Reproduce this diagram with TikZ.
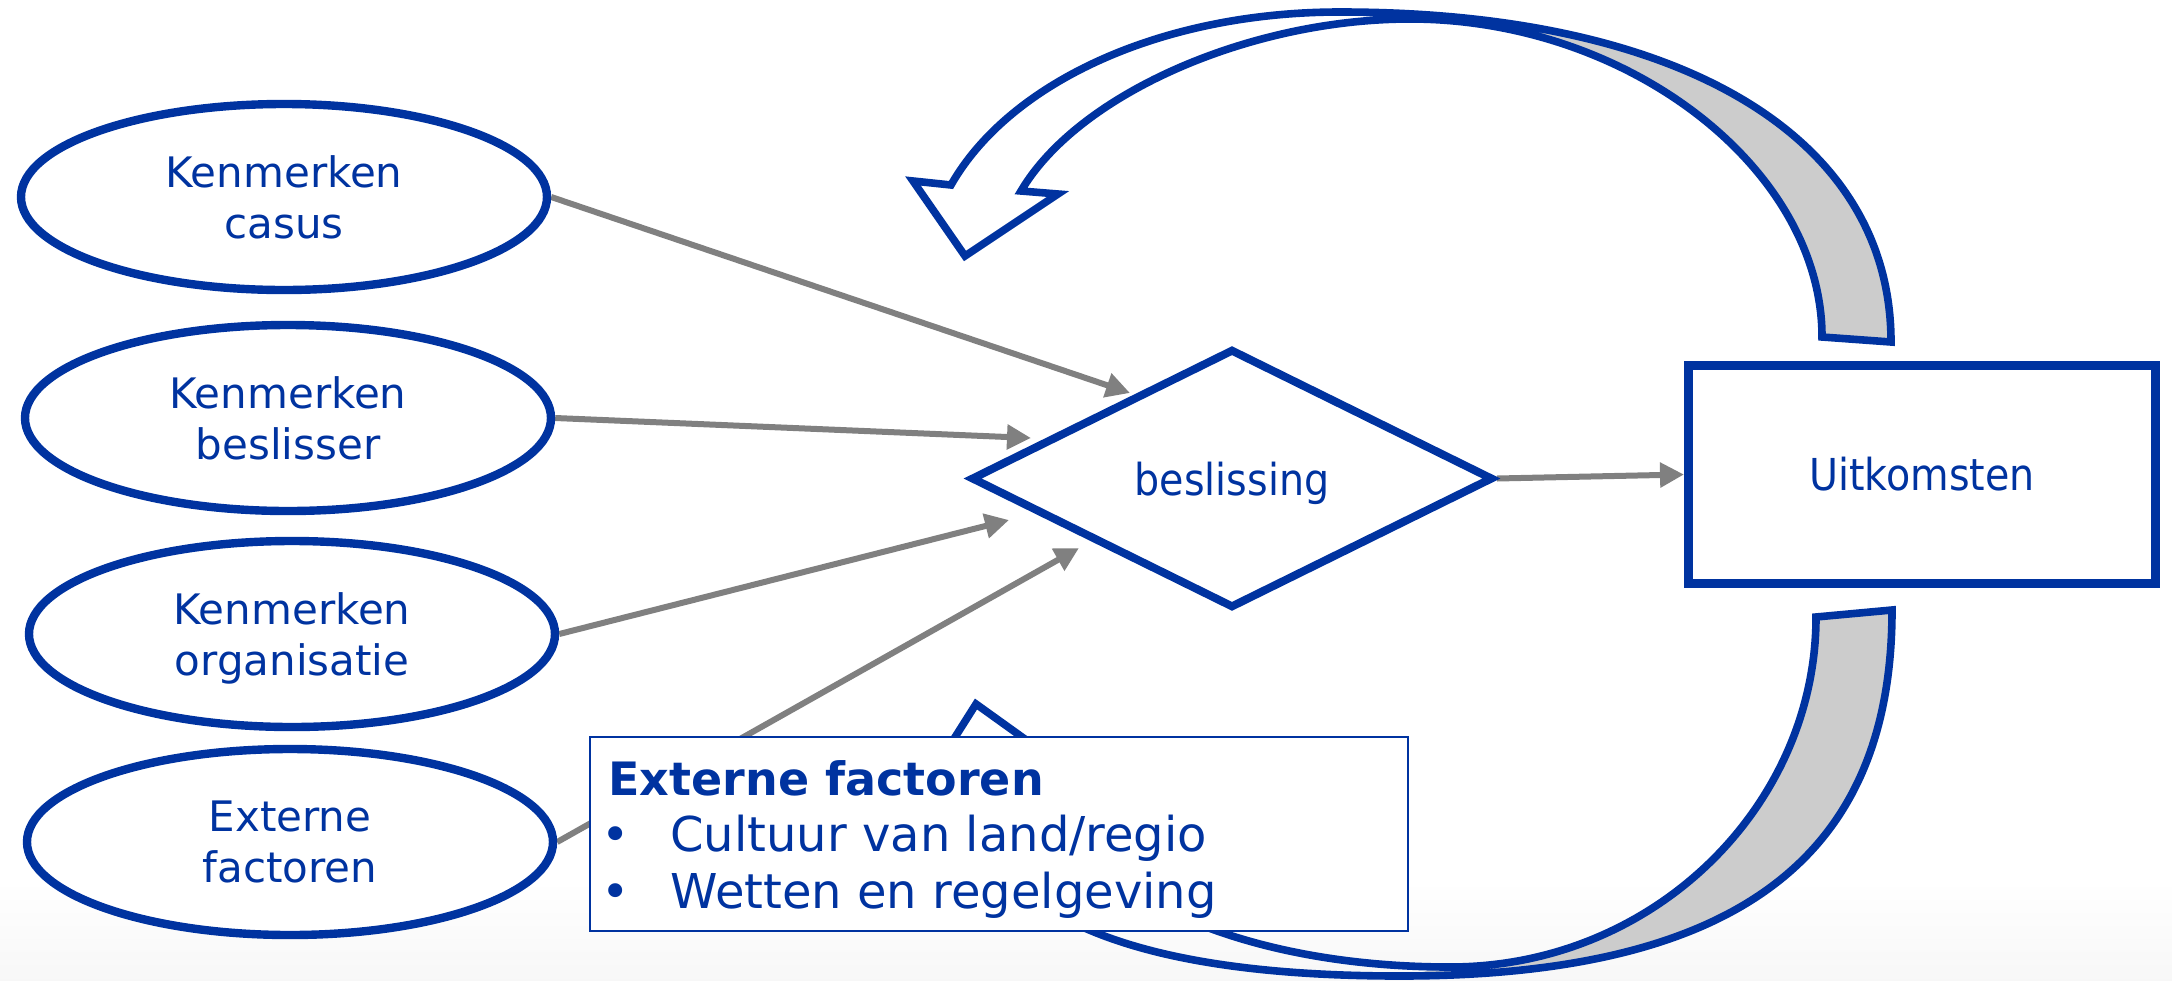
\documentclass[tikz,border=0pt]{standalone}
\usepackage{fontspec}
\setmainfont{DejaVu Sans}
\newfontfamily\condfont[FakeStretch=0.9]{DejaVu Sans}
\usetikzlibrary{shapes.geometric,arrows.meta}
\pgfdeclarelayer{bg}
\pgfsetlayers{bg,main}
\definecolor{dblue}{HTML}{0033A0}
\definecolor{cgray}{HTML}{808080}
\definecolor{fgray}{HTML}{CCCCCC}
\begin{document}
\begin{tikzpicture}[x=0.5pt,y=-0.5pt,
  oval/.style={ellipse, draw=dblue, line width=4.2pt, fill=white,
    minimum width=263pt, minimum height=93pt, inner sep=0pt, align=center,
    text=dblue, font=\fontsize{21}{25.5}\selectfont, text depth=0pt},
  conn/.style={draw=cgray, line width=3pt, -{Triangle[length=12pt,width=12pt]}},
  carrow/.style={draw=dblue, line width=3.8pt, line join=miter, miter limit=10},
  boxtxt/.style={inner sep=0pt, text=dblue, font=\fontsize{24}{28}\selectfont}]
\useasboundingbox (0,0) rectangle (2172,980);

% nodes
\node[oval] (e1) at (284,197) {Kenmerken\\casus};
\node[oval] (e2) at (288,418) {Kenmerken\\beslisser};
\node[oval] (e3) at (292,634) {Kenmerken\\organisatie};
\node[oval] (e4) at (290,842) {Externe\\factoren};
\node[diamond, draw=dblue, line width=4pt, fill=white, line join=miter,
  minimum width=261pt, minimum height=129.5pt, inner sep=0pt, text=dblue,
  font=\condfont\fontsize{22}{26}\selectfont, text depth=0pt] (d) at (1232,478.5) {beslissing};
\node[draw=dblue, line width=4.3pt, fill=white, minimum width=233.7pt,
  minimum height=109.2pt, inner sep=0pt, text=dblue,
  font=\condfont\fontsize{22}{26}\selectfont] (r) at (1922,474.5) {Uitkomsten};

\coordinate (t1) at (1130,393);
\coordinate (t2) at (1031,438);
\coordinate (t3) at (1009,520);
\coordinate (t4) at (1079,548);

\begin{pgfonlayer}{bg}
\fill[white] (0,0) rectangle (2172,980);
\shade[top color=white, bottom color=black!3] (0,880) rectangle (2172,980);

% connectors
\draw[conn] (e1.east) -- (t1);
\draw[conn] (e2.east) -- (t2);
\draw[conn] (e3.east) -- (t3);
\draw[conn] (e4.east) -- (t4);
\draw[conn] (d.east) -- (r.west);

% top curved arrow
\fill[fgray] (1340,12) .. controls (1682,12) and (1891,137) .. (1891,342)
  -- (1822,337) .. controls (1822,170) and (1630,19) .. (1410,19) -- cycle;
\draw[carrow] (1891,342) .. controls (1891,137) and (1682,12) .. (1340,12)
  .. controls (1160,12) and (1009,83) .. (951,185)
  -- (913,181) -- (965,256) -- (1058,194) -- (1021,191)
  .. controls (1078,94) and (1250,19) .. (1410,19)
  .. controls (1630,19) and (1822,170) .. (1822,337) -- cycle;

% bottom curved arrow
\fill[fgray] (1400,976) .. controls (1735,976) and (1892,859) .. (1892,610)
  -- (1816,617) .. controls (1816,805) and (1655,967) .. (1450,967) -- cycle;
\draw[carrow] (1892,610) .. controls (1892,859) and (1735,976) .. (1400,976)
  .. controls (1100,976) and (975,900) .. (964,779)
  -- (926,783) -- (976,704) -- (1068,770) -- (1031,773)
  .. controls (1080,905) and (1260,967) .. (1450,967)
  .. controls (1655,967) and (1816,805) .. (1816,617) -- cycle;
\end{pgfonlayer}

% text box
\node[draw=dblue, line width=1pt, fill=white, minimum width=409pt,
  minimum height=97pt, inner sep=0pt, anchor=north west] (xbox) at (589,736) {};
\node[boxtxt, font=\bfseries\fontsize{23}{28}\selectfont, anchor=base west] (xt) at (608,795) {Externe factoren};
\node[boxtxt, anchor=base west] (xd1) at (601,851) {\textbullet};
\node[boxtxt, anchor=base west] (xl1) at (670,851) {Cultuur van land/regio};
\node[boxtxt, anchor=base west] (xd2) at (601,908) {\textbullet};
\node[boxtxt, anchor=base west] (xl2) at (670,908) {Wetten en regelgeving};
\end{tikzpicture}
\end{document}
